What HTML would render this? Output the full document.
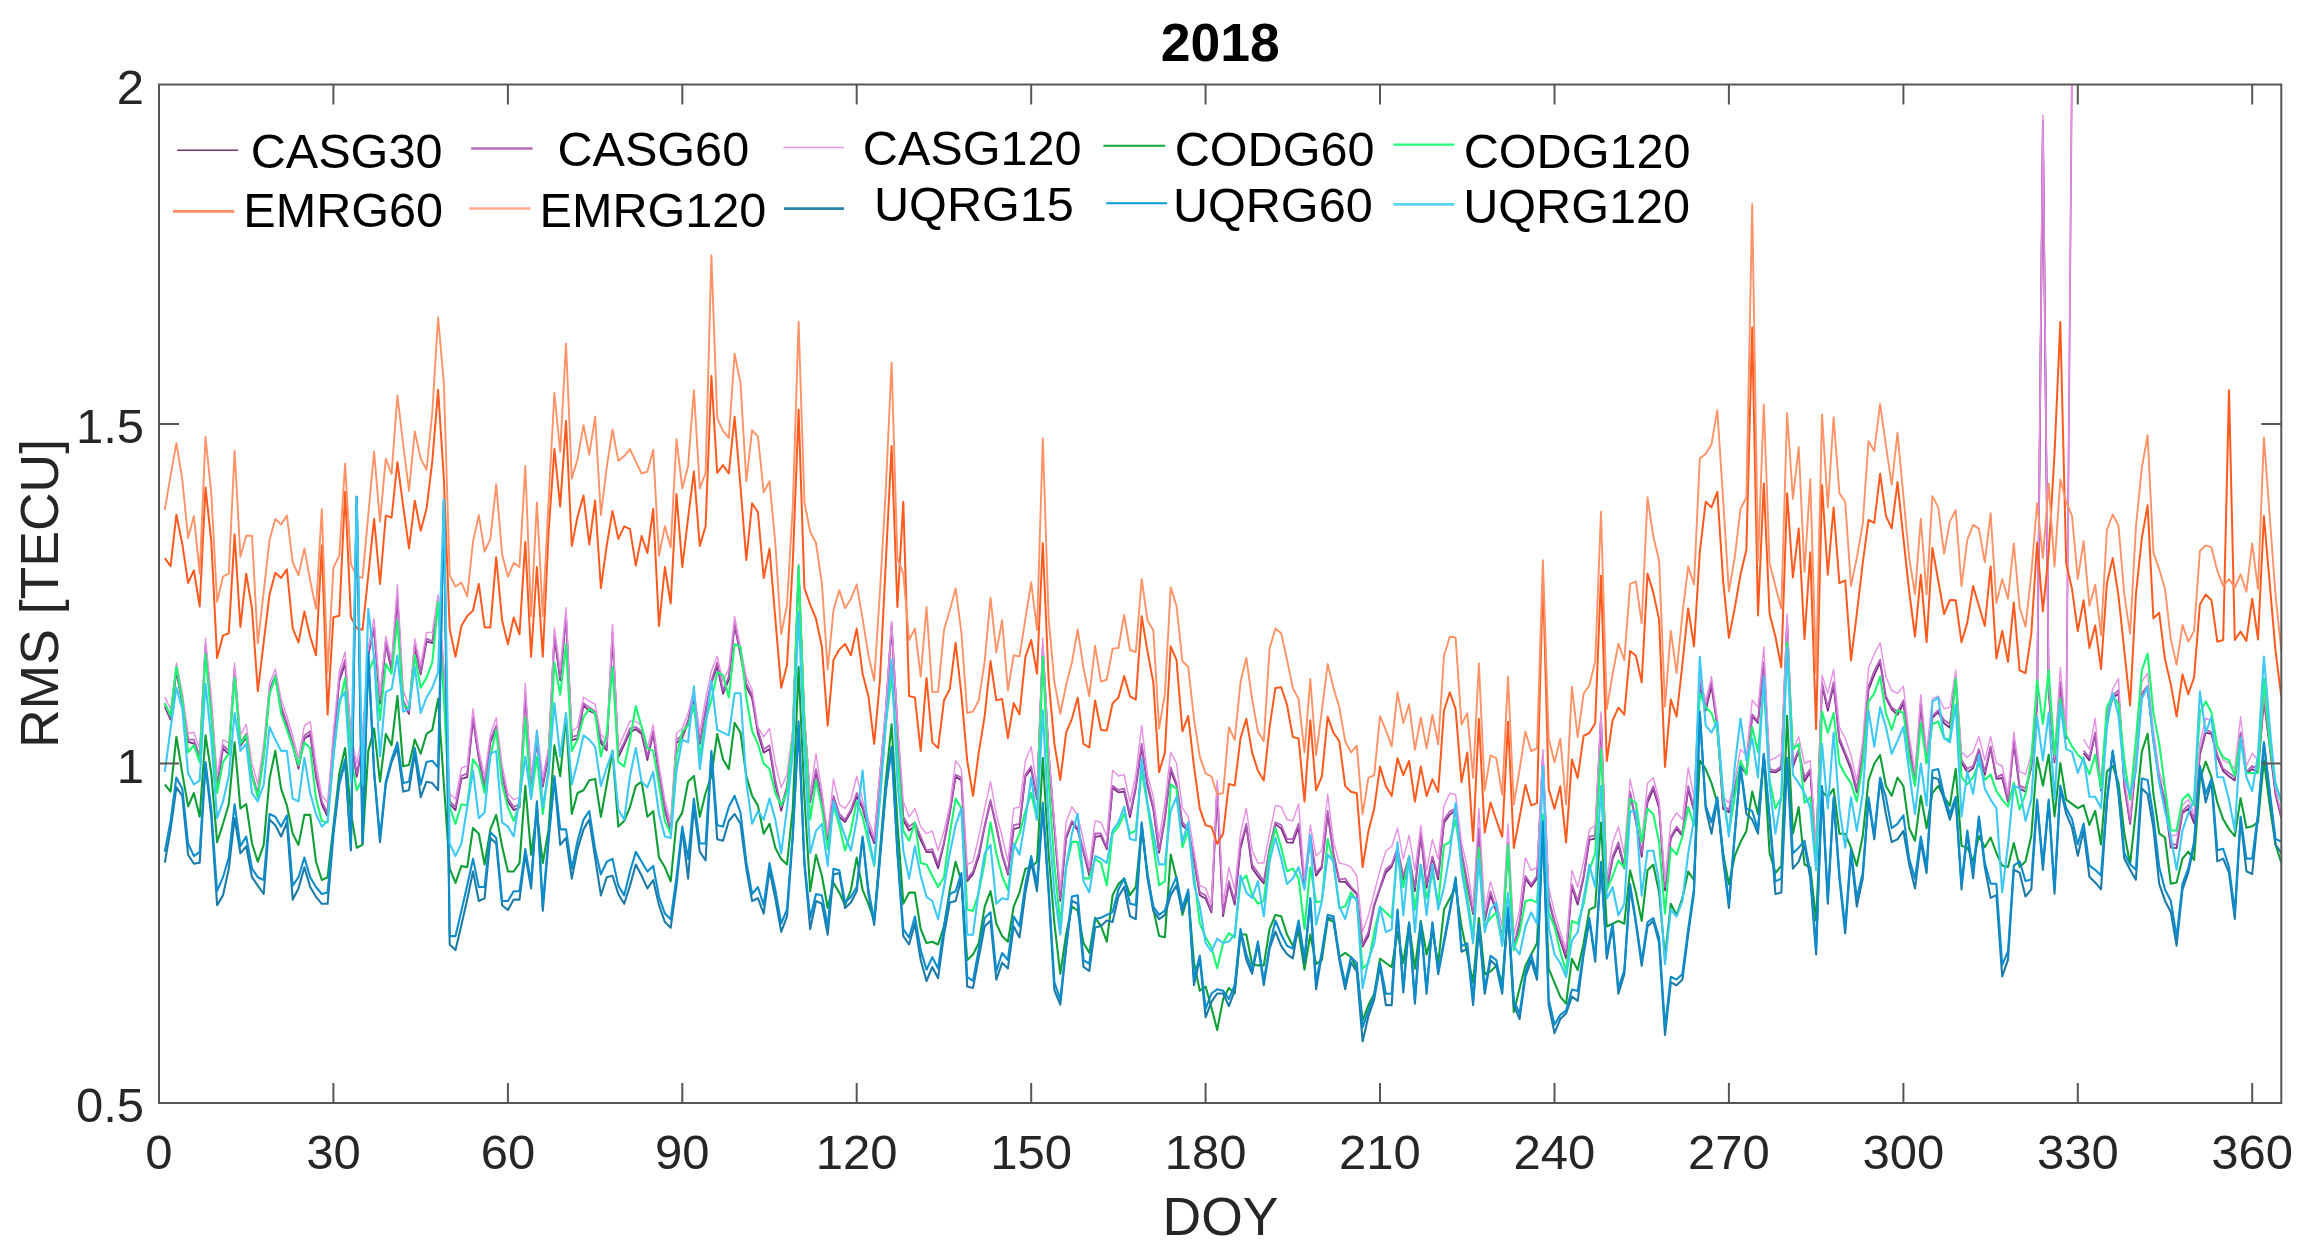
<!DOCTYPE html>
<html><head><meta charset="utf-8"><title>2018</title>
<style>
html,body{margin:0;padding:0;background:#fff;}
svg{display:block;font-family:"Liberation Sans",sans-serif;}
.tk{font-size:49px;fill:#262626;}
.lb{font-size:53.5px;fill:#262626;}
.lg{font-size:48.6px;fill:#000;}
.ti{font-size:53.5px;font-weight:bold;fill:#000;}
</style></head><body>
<svg width="2309" height="1247" viewBox="0 0 2309 1247">
<rect width="2309" height="1247" fill="#fff"/>

<clipPath id="cp"><rect x="159.0" y="84.5" width="2122.3" height="1018.5"/></clipPath>
<filter id="bl" x="-2%" y="-2%" width="104%" height="104%"><feGaussianBlur stdDeviation="0.45"/></filter>
<g clip-path="url(#cp)"><g filter="url(#bl)">
<polyline fill="none" stroke="#7A2A82" stroke-width="1.8" stroke-linejoin="round" points="164.8,706.9 170.6,719.6 176.4,671.4 182.3,703.6 188.1,741.8 193.9,743.6 199.7,760.1 205.5,647.3 211.3,709.0 217.1,787.3 223.0,748.4 228.8,754.3 234.6,670.3 240.4,746.1 246.2,737.3 252.0,776.6 257.8,795.4 263.7,756.3 269.5,692.8 275.3,676.9 281.1,709.9 286.9,725.9 292.7,745.2 298.5,768.7 304.4,738.4 310.2,734.4 316.0,777.0 321.8,804.6 327.6,816.3 333.4,743.4 339.3,681.2 345.1,663.2 350.9,741.8 356.7,776.9 362.5,747.0 368.3,655.1 374.1,629.6 380.0,704.0 385.8,644.4 391.6,670.0 397.4,598.2 403.2,703.1 409.0,713.8 414.8,647.2 420.7,674.3 426.5,641.6 432.3,643.0 438.1,606.6 443.9,676.0 449.7,804.0 455.5,810.1 461.4,779.0 467.2,777.2 473.0,719.8 478.8,758.6 484.6,788.5 490.4,742.5 496.2,728.1 502.1,774.9 507.9,801.7 513.7,810.1 519.5,807.4 525.3,695.2 531.1,783.3 536.9,742.8 542.8,786.7 548.6,756.6 554.4,636.8 560.2,680.3 566.0,617.0 571.8,740.3 577.6,738.3 583.5,705.4 589.3,710.9 595.1,713.5 600.9,742.9 606.7,750.4 612.5,635.2 618.3,757.3 624.2,744.8 630.0,732.1 635.8,729.1 641.6,734.0 647.4,760.0 653.2,733.2 659.0,776.8 664.9,810.5 670.7,831.3 676.5,743.1 682.3,737.8 688.1,722.5 693.9,698.5 699.8,743.9 705.6,712.5 711.4,683.3 717.2,666.3 723.0,693.9 728.8,679.6 734.6,625.4 740.5,654.7 746.3,686.5 752.1,698.2 757.9,733.6 763.7,752.7 769.5,749.1 775.3,784.1 781.2,810.7 787.0,788.9 792.8,734.2 798.6,570.4 804.4,720.5 810.2,802.2 816.0,772.3 821.9,800.0 827.7,839.0 833.5,799.6 839.3,817.0 845.1,822.0 850.9,811.9 856.7,796.6 862.6,808.3 868.4,828.7 874.2,843.1 880.0,776.7 885.8,713.0 891.6,626.7 897.4,726.1 903.3,820.3 909.1,830.5 914.9,826.0 920.7,840.0 926.5,852.0 932.3,852.2 938.1,868.2 944.0,843.7 949.8,813.4 955.6,776.9 961.4,780.3 967.2,881.1 973.0,874.2 978.8,856.8 984.7,826.7 990.5,801.6 996.3,827.1 1002.1,855.1 1007.9,874.6 1013.7,829.2 1019.5,827.5 1025.4,776.4 1031.2,769.1 1037.0,799.5 1042.8,647.9 1048.6,754.6 1054.4,828.4 1060.3,901.0 1066.1,838.7 1071.9,822.8 1077.7,830.2 1083.5,852.1 1089.3,875.7 1095.1,836.8 1101.0,835.9 1106.8,849.2 1112.6,787.7 1118.4,792.4 1124.2,791.6 1130.0,817.3 1135.8,788.2 1141.7,747.2 1147.5,786.0 1153.3,809.4 1159.1,852.8 1164.9,819.4 1170.7,770.8 1176.5,785.5 1182.4,825.5 1188.2,830.5 1194.0,860.9 1199.8,895.3 1205.6,898.5 1211.4,912.4 1217.2,791.4 1223.1,916.1 1228.9,883.8 1234.7,904.6 1240.5,848.6 1246.3,826.1 1252.1,868.1 1257.9,876.3 1263.8,883.4 1269.6,850.2 1275.4,824.1 1281.2,828.6 1287.0,842.3 1292.8,842.8 1298.6,827.2 1304.5,887.2 1310.3,838.2 1316.1,875.7 1321.9,867.5 1327.7,814.0 1333.5,854.7 1339.3,881.7 1345.2,881.8 1351.0,888.4 1356.8,894.5 1362.6,946.5 1368.4,935.8 1374.2,906.0 1380.0,888.7 1385.9,872.5 1391.7,866.5 1397.5,851.5 1403.3,879.1 1409.1,859.9 1414.9,891.1 1420.8,835.4 1426.6,887.9 1432.4,857.9 1438.2,879.4 1444.0,822.6 1449.8,814.7 1455.6,810.4 1461.5,854.1 1467.3,885.4 1473.1,914.1 1478.9,830.5 1484.7,921.0 1490.5,895.0 1496.3,911.7 1502.2,939.6 1508.0,844.4 1513.8,949.2 1519.6,924.2 1525.4,878.4 1531.2,886.8 1537.0,878.4 1542.9,757.6 1548.7,900.9 1554.5,922.6 1560.3,940.4 1566.1,958.5 1571.9,886.9 1577.7,904.6 1583.6,877.9 1589.4,839.9 1595.2,838.6 1601.0,719.2 1606.8,890.0 1612.6,859.0 1618.4,845.4 1624.3,868.5 1630.1,793.6 1635.9,821.6 1641.7,856.9 1647.5,802.6 1653.3,788.9 1659.1,808.2 1665.0,890.3 1670.8,838.4 1676.6,828.8 1682.4,835.7 1688.2,788.9 1694.0,810.7 1699.8,684.2 1705.7,710.6 1711.5,686.0 1717.3,726.4 1723.1,808.9 1728.9,812.3 1734.7,789.6 1740.5,766.5 1746.4,774.1 1752.2,716.4 1758.0,723.0 1763.8,665.2 1769.6,771.6 1775.4,772.4 1781.3,768.7 1787.1,622.7 1792.9,766.9 1798.7,751.3 1804.5,781.5 1810.3,771.8 1816.1,856.3 1822.0,684.8 1827.8,710.9 1833.6,685.7 1839.4,741.1 1845.2,755.0 1851.0,769.6 1856.8,792.4 1862.7,754.8 1868.5,689.6 1874.3,674.8 1880.1,662.3 1885.9,698.2 1891.7,709.4 1897.5,714.9 1903.4,703.5 1909.2,747.7 1915.0,784.0 1920.8,703.9 1926.6,762.7 1932.4,717.9 1938.2,712.1 1944.1,723.3 1949.9,727.8 1955.7,679.9 1961.5,762.5 1967.3,772.4 1973.1,768.2 1978.9,751.7 1984.8,774.9 1990.6,748.0 1996.4,778.9 2002.2,778.0 2008.0,801.9 2013.8,743.1 2019.6,788.5 2025.5,791.6 2031.3,767.5 2037.1,706.5 2042.9,123.0 2048.7,692.9 2054.5,762.4 2060.3,684.7 2066.2,739.0"/>
<polyline fill="none" stroke="#7A2A82" stroke-width="1.8" stroke-linejoin="round" points="2083.6,753.0 2089.4,760.4 2095.2,734.1 2101.0,790.6 2106.9,718.6 2112.7,697.6 2118.5,693.9 2124.3,786.6 2130.1,823.8 2135.9,764.2 2141.8,695.4 2147.6,689.4 2153.4,741.3 2159.2,779.4 2165.0,802.8 2170.8,847.7 2176.6,848.1 2182.5,813.0 2188.3,808.6 2194.1,823.2 2199.9,755.1 2205.7,732.3 2211.5,734.1 2217.3,757.5 2223.2,771.1 2229.0,776.3 2234.8,780.4 2240.6,735.2 2246.4,773.5 2252.2,769.1 2258.0,771.8 2263.9,700.5 2269.7,747.2 2275.5,794.3 2281.3,818.3"/>
<polyline fill="none" stroke="#B25EBB" stroke-width="1.8" stroke-linejoin="round" points="164.8,704.8 170.6,717.2 176.4,668.3 182.3,702.0 188.1,739.6 193.9,739.6 199.7,756.5 205.5,644.2 211.3,706.0 217.1,784.5 223.0,745.2 228.8,750.9 234.6,668.1 240.4,742.4 246.2,734.0 252.0,773.3 257.8,793.0 263.7,753.7 269.5,689.1 275.3,675.1 281.1,706.0 286.9,722.8 292.7,742.4 298.5,766.3 304.4,735.4 310.2,731.2 316.0,773.3 321.8,801.4 327.6,812.6 333.4,739.6 339.3,677.9 345.1,659.6 350.9,739.6 356.7,773.3 362.5,745.2 368.3,652.6 374.1,627.4 380.0,700.3 385.8,641.4 391.6,666.7 397.4,594.5 403.2,700.3 409.0,711.6 414.8,644.2 420.7,672.3 426.5,638.6 432.3,641.4 438.1,604.3 443.9,672.3 449.7,801.4 455.5,807.0 461.4,776.1 467.2,773.3 473.0,717.2 478.8,756.5 484.6,784.5 490.4,739.6 496.2,725.6 502.1,773.3 507.9,798.6 513.7,807.0 519.5,804.2 525.3,691.9 531.1,781.7 536.9,739.6 542.8,784.5 548.6,753.7 554.4,634.4 560.2,677.9 566.0,614.7 571.8,736.8 577.6,735.4 583.5,703.1 589.3,707.4 595.1,711.6 600.9,739.6 606.7,748.1 612.5,631.6 618.3,753.7 624.2,742.4 630.0,728.4 635.8,727.0 641.6,731.2 647.4,756.5 653.2,731.2 659.0,773.3 664.9,807.0 670.7,829.4 676.5,739.6 682.3,735.4 688.1,720.0 693.9,694.7 699.8,742.4 705.6,708.8 711.4,680.7 717.2,662.4 723.0,690.5 728.8,676.5 734.6,623.2 740.5,652.6 746.3,683.5 752.1,694.7 757.9,729.8 763.7,749.5 769.5,745.3 775.3,780.3 781.2,807.0 787.0,786.0 792.8,732.6 798.6,567.0 804.4,718.6 810.2,800.0 816.0,769.1 821.9,797.2 827.7,836.5 833.5,795.8 839.3,814.0 845.1,819.6 850.9,809.8 856.7,793.0 862.6,805.6 868.4,825.2 874.2,840.7 880.0,774.7 885.8,710.2 891.6,623.2 897.4,724.2 903.3,816.8 909.1,826.6 914.9,822.4 920.7,836.5 926.5,850.5 932.3,849.1 938.1,864.5 944.0,842.1 949.8,811.2 955.6,774.7 961.4,777.5 967.2,878.6 973.0,871.6 978.8,853.3 984.7,825.2 990.5,800.0 996.3,825.2 1002.1,853.3 1007.9,873.0 1013.7,825.2 1019.5,823.8 1025.4,774.7 1031.2,766.3 1037.0,797.2 1042.8,645.6 1048.6,752.3 1054.4,825.2 1060.3,898.1 1066.1,836.3 1071.9,820.9 1077.7,827.9 1083.5,850.3 1089.3,872.8 1095.1,833.5 1101.0,833.5 1106.8,847.5 1112.6,785.8 1118.4,790.0 1124.2,788.6 1130.0,813.8 1135.8,785.8 1141.7,743.7 1147.5,783.0 1153.3,806.8 1159.1,850.3 1164.9,816.7 1170.7,767.5 1176.5,783.0 1182.4,822.3 1188.2,827.9 1194.0,858.8 1199.8,892.4 1205.6,895.2 1211.4,910.7 1217.2,785.8 1223.1,913.5 1228.9,881.2 1234.7,900.9 1240.5,844.7 1246.3,823.7 1252.1,864.4 1257.9,872.8 1263.8,881.2 1269.6,847.5 1275.4,822.3 1281.2,825.1 1287.0,839.1 1292.8,839.1 1298.6,823.7 1304.5,884.0 1310.3,834.9 1316.1,872.8 1321.9,865.8 1327.7,811.0 1333.5,853.1 1339.3,879.8 1345.2,878.4 1351.0,886.8 1356.8,892.8 1362.6,944.7 1368.4,932.1 1374.2,904.0 1380.0,887.2 1385.9,868.9 1391.7,864.7 1397.5,847.9 1403.3,876.0 1409.1,856.3 1414.9,887.2 1420.8,832.4 1426.6,884.4 1432.4,856.3 1438.2,876.0 1444.0,819.8 1449.8,811.4 1455.6,808.6 1461.5,850.7 1467.3,881.6 1473.1,912.4 1478.9,828.2 1484.7,918.1 1490.5,891.4 1496.3,909.6 1502.2,937.7 1508.0,842.3 1513.8,946.1 1519.6,920.9 1525.4,876.0 1531.2,884.4 1537.0,876.0 1542.9,755.3 1548.7,898.4 1554.5,920.9 1560.3,937.7 1566.1,954.5 1571.9,884.4 1577.7,901.2 1583.6,876.0 1589.4,836.7 1595.2,835.3 1601.0,716.0 1606.8,887.2 1612.6,856.3 1618.4,842.3 1624.3,864.7 1630.1,791.7 1635.9,819.8 1641.7,853.5 1647.5,798.8 1653.3,786.1 1659.1,805.6 1665.0,887.0 1670.8,836.5 1676.6,826.6 1682.4,833.7 1688.2,786.0 1694.0,808.4 1699.8,682.1 1705.7,707.4 1711.5,682.1 1717.3,724.2 1723.1,805.6 1728.9,809.8 1734.7,786.0 1740.5,763.5 1746.4,771.9 1752.2,714.4 1758.0,721.4 1763.8,662.5 1769.6,769.1 1775.4,770.5 1781.3,766.3 1787.1,620.4 1792.9,763.5 1798.7,749.5 1804.5,777.5 1810.3,769.1 1816.1,853.3 1822.0,682.1 1827.8,707.4 1833.6,682.1 1839.4,738.2 1845.2,752.3 1851.0,766.3 1856.8,788.8 1862.7,752.3 1868.5,686.3 1874.3,670.9 1880.1,659.6 1885.9,696.1 1891.7,707.4 1897.5,711.6 1903.4,700.3 1909.2,743.8 1915.0,780.3 1920.8,701.7 1926.6,760.7 1932.4,715.8 1938.2,710.2 1944.1,720.0 1949.9,724.2 1955.7,676.1 1961.5,760.3 1967.3,768.8 1973.1,766.0 1978.9,749.1 1984.8,771.6 1990.6,746.3 1996.4,777.2 2002.2,774.4 2008.0,799.6 2013.8,740.7 2019.6,785.6 2025.5,788.4 2031.3,766.0 2037.1,704.2 2042.9,120.4 2048.7,690.2 2054.5,760.3 2060.3,681.7 2066.2,735.1 2072.0,58.7"/>
<polyline fill="none" stroke="#B25EBB" stroke-width="1.8" stroke-linejoin="round" points="2083.6,750.5 2089.4,757.5 2095.2,732.3 2101.0,788.4 2106.9,715.4 2112.7,695.8 2118.5,690.2 2124.3,782.8 2130.1,822.1 2135.9,760.3 2141.8,693.0 2147.6,686.0 2153.4,737.9 2159.2,777.2 2165.0,799.6 2170.8,844.5 2176.6,844.5 2182.5,810.9 2188.3,805.2 2194.1,819.3 2199.9,751.9 2205.7,729.5 2211.5,732.3 2217.3,754.7 2223.2,768.8 2229.0,773.0 2234.8,777.2 2240.6,732.3 2246.4,771.6 2252.2,766.0 2258.0,768.8 2263.9,698.6 2269.7,743.5 2275.5,791.2 2281.3,816.5"/>
<polyline fill="none" stroke="#E690E4" stroke-width="1.4" stroke-linejoin="round" points="164.8,697.1 170.6,709.2 176.4,663.0 182.3,692.8 188.1,733.5 193.9,732.3 199.7,749.1 205.5,638.4 211.3,696.6 217.1,775.8 223.0,739.9 228.8,742.9 234.6,662.9 240.4,735.1 246.2,724.6 252.0,763.7 257.8,784.0 263.7,744.0 269.5,683.6 275.3,669.0 281.1,698.8 286.9,716.3 292.7,735.5 298.5,758.4 304.4,725.9 310.2,721.6 316.0,763.4 321.8,795.6 327.6,802.8 333.4,731.8 339.3,671.8 345.1,651.8 350.9,734.3 356.7,763.4 362.5,736.2 368.3,646.9 374.1,618.5 380.0,695.1 385.8,636.2 391.6,660.0 397.4,584.6 403.2,690.3 409.0,706.2 414.8,639.0 420.7,665.2 426.5,632.8 432.3,632.1 438.1,594.6 443.9,665.4 449.7,793.8 455.5,799.0 461.4,768.0 467.2,765.8 473.0,708.6 478.8,750.0 484.6,776.9 490.4,734.6 496.2,717.7 502.1,765.2 507.9,793.3 513.7,799.7 519.5,797.4 525.3,683.2 531.1,776.4 536.9,729.8 542.8,777.3 548.6,747.1 554.4,627.8 560.2,669.9 566.0,607.8 571.8,731.7 577.6,726.7 583.5,697.0 589.3,701.2 595.1,704.4 600.9,734.1 606.7,741.4 612.5,624.4 618.3,747.8 624.2,734.2 630.0,721.1 635.8,721.4 641.6,725.3 647.4,747.3 653.2,724.8 659.0,765.1 664.9,800.3 670.7,823.0 676.5,733.3 682.3,728.3 688.1,712.9 693.9,688.9 699.8,732.7 705.6,698.8 711.4,670.9 717.2,656.3 723.0,681.3 728.8,668.9 734.6,616.4 740.5,647.3 746.3,677.1 752.1,689.5 757.9,727.0 763.7,736.8 769.5,728.4 775.3,763.5 781.2,787.4 787.0,774.7 792.8,729.8 798.6,564.2 804.4,715.8 810.2,794.4 816.0,753.7 821.9,791.6 827.7,833.7 833.5,778.9 839.3,804.2 845.1,808.4 850.9,800.0 856.7,776.1 862.6,800.0 868.4,819.6 874.2,836.5 880.0,771.9 885.8,707.4 891.6,621.5 897.4,721.4 903.3,801.4 909.1,816.8 914.9,808.4 920.7,826.6 926.5,833.7 932.3,830.9 938.1,850.5 944.0,830.9 949.8,805.6 955.6,760.7 961.4,769.1 967.2,864.5 973.0,861.7 978.8,836.5 984.7,808.4 990.5,781.7 996.3,814.0 1002.1,836.5 1007.9,861.7 1013.7,808.4 1019.5,807.0 1025.4,760.7 1031.2,746.7 1037.0,788.8 1042.8,638.3 1048.6,749.5 1054.4,822.4 1060.3,889.6 1066.1,822.3 1071.9,806.8 1077.7,815.3 1083.5,840.5 1089.3,867.2 1095.1,820.9 1101.0,822.3 1106.8,836.3 1112.6,770.3 1118.4,776.0 1124.2,774.6 1130.0,802.6 1135.8,774.6 1141.7,725.4 1147.5,774.6 1153.3,797.0 1159.1,839.1 1164.9,802.6 1170.7,752.1 1176.5,763.3 1182.4,808.2 1188.2,816.7 1194.0,850.3 1199.8,885.4 1205.6,888.2 1211.4,903.7 1217.2,780.2 1223.1,903.7 1228.9,867.2 1234.7,889.6 1240.5,833.5 1246.3,808.2 1252.1,850.3 1257.9,863.0 1263.8,863.0 1269.6,833.5 1275.4,805.4 1281.2,806.8 1287.0,819.5 1292.8,820.9 1298.6,804.0 1304.5,878.4 1310.3,825.1 1316.1,856.0 1321.9,850.3 1327.7,794.2 1333.5,841.9 1339.3,863.0 1345.2,864.4 1351.0,867.2 1356.8,876.0 1362.6,932.1 1368.4,915.2 1374.2,892.8 1380.0,870.3 1385.9,850.7 1391.7,846.5 1397.5,828.2 1403.3,859.1 1409.1,835.3 1414.9,870.3 1420.8,825.4 1426.6,870.3 1432.4,839.5 1438.2,859.1 1444.0,805.8 1449.8,793.2 1455.6,794.6 1461.5,842.3 1467.3,867.5 1473.1,906.8 1478.9,808.6 1484.7,909.6 1490.5,881.6 1496.3,901.2 1502.2,926.5 1508.0,824.0 1513.8,934.9 1519.6,909.6 1525.4,857.7 1531.2,870.3 1537.0,867.5 1542.9,749.6 1548.7,887.2 1554.5,912.4 1560.3,932.1 1566.1,948.9 1571.9,870.3 1577.7,887.2 1583.6,861.9 1589.4,829.6 1595.2,825.4 1601.0,712.0 1606.8,878.8 1612.6,842.3 1618.4,826.8 1624.3,853.5 1630.1,779.1 1635.9,805.8 1641.7,842.3 1647.5,783.3 1653.3,777.7 1659.1,800.0 1665.0,881.4 1670.8,822.4 1676.6,812.6 1682.4,819.6 1688.2,767.7 1694.0,797.2 1699.8,676.5 1705.7,701.7 1711.5,676.5 1717.3,718.6 1723.1,797.2 1728.9,802.8 1734.7,780.3 1740.5,749.5 1746.4,755.1 1752.2,700.3 1758.0,707.4 1763.8,647.0 1769.6,760.7 1775.4,757.9 1781.3,753.7 1787.1,613.9 1792.9,749.5 1798.7,736.8 1804.5,763.5 1810.3,760.7 1816.1,847.7 1822.0,675.1 1827.8,693.3 1833.6,669.5 1839.4,727.0 1845.2,738.2 1851.0,755.1 1856.8,780.3 1862.7,741.0 1868.5,668.1 1874.3,654.0 1880.1,642.8 1885.9,676.5 1891.7,690.5 1897.5,693.3 1903.4,686.3 1909.2,735.4 1915.0,771.9 1920.8,694.7 1926.6,752.3 1932.4,698.9 1938.2,696.1 1944.1,708.8 1949.9,707.4 1955.7,670.5 1961.5,751.9 1967.3,757.5 1973.1,751.9 1978.9,736.5 1984.8,760.3 1990.6,736.5 1996.4,763.1 2002.2,766.0 2008.0,794.0 2013.8,732.3 2019.6,771.6 2025.5,774.4 2031.3,754.7 2037.1,690.2 2042.9,115.1 2048.7,684.6 2054.5,757.5 2060.3,667.7 2066.2,732.3 2072.0,55.0"/>
<polyline fill="none" stroke="#E690E4" stroke-width="1.4" stroke-linejoin="round" points="2083.6,739.3 2089.4,749.1 2095.2,718.2 2101.0,785.6 2106.9,712.6 2112.7,688.8 2118.5,678.9 2124.3,777.2 2130.1,816.5 2135.9,754.7 2141.8,681.7 2147.6,673.3 2153.4,729.5 2159.2,771.6 2165.0,788.4 2170.8,836.1 2176.6,834.7 2182.5,805.2 2188.3,799.6 2194.1,813.7 2199.9,743.5 2205.7,718.2 2211.5,721.0 2217.3,746.3 2223.2,760.3 2229.0,763.1 2234.8,768.8 2240.6,716.8 2246.4,766.0 2252.2,753.3 2258.0,760.3 2263.9,693.0 2269.7,737.9 2275.5,788.4 2281.3,813.7"/>
<polyline fill="none" stroke="#0E9F34" stroke-width="2.1" stroke-linejoin="round" points="164.8,784.5 170.6,791.6 176.4,736.8 182.3,773.3 188.1,806.4 193.9,793.0 199.7,816.8 205.5,735.4 211.3,773.3 217.1,842.1 223.0,823.8 228.8,804.2 234.6,742.4 240.4,808.4 246.2,804.2 252.0,843.5 257.8,861.7 263.7,844.9 269.5,778.9 275.3,750.9 281.1,788.7 286.9,805.6 292.7,833.7 298.5,844.9 304.4,814.9 310.2,814.9 316.0,861.7 321.8,880.0 327.6,877.2 333.4,826.6 339.3,773.3 345.1,748.1 350.9,812.6 356.7,847.7 362.5,844.9 368.3,750.9 374.1,728.4 380.0,781.7 385.8,734.0 391.6,745.2 397.4,696.1 403.2,766.3 409.0,764.9 414.8,739.6 420.7,753.7 426.5,734.0 432.3,729.8 438.1,698.9 443.9,784.5 449.7,868.7 455.5,882.8 461.4,865.9 467.2,867.3 473.0,828.0 478.8,833.7 484.6,864.5 490.4,829.4 496.2,814.9 502.1,846.3 507.9,871.5 513.7,871.5 519.5,863.1 525.3,785.9 531.1,854.7 536.9,812.6 542.8,863.1 548.6,829.4 554.4,745.2 560.2,776.1 566.0,717.2 571.8,814.0 577.6,793.0 583.5,790.2 589.3,780.3 595.1,778.9 600.9,816.8 606.7,784.5 612.5,750.9 618.3,826.6 624.2,821.0 630.0,807.0 635.8,785.9 641.6,781.7 647.4,816.8 653.2,811.2 659.0,857.5 664.9,867.3 670.7,881.4 676.5,822.4 682.3,812.6 688.1,781.7 693.9,776.1 699.8,816.8 705.6,793.0 711.4,776.1 717.2,734.0 723.0,759.3 728.8,769.1 734.6,722.8 740.5,732.6 746.3,776.1 752.1,795.8 757.9,805.6 763.7,833.7 769.5,823.8 775.3,847.7 781.2,858.9 787.0,864.5 792.8,808.4 798.6,666.7 804.4,797.2 810.2,891.2 816.0,854.7 821.9,875.8 827.7,908.0 833.5,882.8 839.3,892.6 845.1,905.2 850.9,889.8 856.7,857.5 862.6,889.8 868.4,903.8 874.2,920.7 880.0,850.5 885.8,780.3 891.6,724.2 897.4,822.4 903.3,903.8 909.1,892.6 914.9,892.6 920.7,929.1 926.5,943.1 932.3,941.7 938.1,944.5 944.0,926.3 949.8,889.8 955.6,861.7 961.4,881.4 967.2,960.0 973.0,954.4 978.8,943.1 984.7,906.6 990.5,891.2 996.3,923.5 1002.1,936.1 1007.9,941.7 1013.7,906.6 1019.5,892.6 1025.4,868.7 1031.2,867.3 1037.0,861.7 1042.8,757.9 1048.6,853.3 1054.4,923.5 1060.3,973.8 1066.1,934.5 1071.9,906.5 1077.7,910.7 1083.5,943.0 1089.3,952.8 1095.1,917.7 1101.0,926.1 1106.8,941.6 1112.6,895.2 1118.4,884.0 1124.2,878.4 1130.0,895.2 1135.8,886.8 1141.7,827.9 1147.5,872.8 1153.3,909.3 1159.1,935.9 1164.9,937.3 1170.7,854.5 1176.5,878.4 1182.4,914.9 1188.2,895.2 1194.0,962.6 1199.8,990.7 1205.6,986.5 1211.4,1007.5 1217.2,1030.0 1223.1,999.1 1228.9,987.9 1234.7,993.5 1240.5,934.5 1246.3,934.5 1252.1,964.0 1257.9,965.4 1263.8,965.4 1269.6,928.9 1275.4,914.9 1281.2,916.3 1287.0,934.5 1292.8,945.8 1298.6,931.7 1304.5,969.6 1310.3,934.5 1316.1,964.0 1321.9,959.8 1327.7,919.1 1333.5,921.9 1339.3,957.0 1345.2,952.8 1351.0,957.0 1356.8,968.6 1362.6,1020.5 1368.4,1005.1 1374.2,993.8 1380.0,958.7 1385.9,963.0 1391.7,967.2 1397.5,932.1 1403.3,963.0 1409.1,923.7 1414.9,968.6 1420.8,920.9 1426.6,954.5 1432.4,932.1 1438.2,963.0 1444.0,909.6 1449.8,898.4 1455.6,887.2 1461.5,926.5 1467.3,954.5 1473.1,982.6 1478.9,918.1 1484.7,974.2 1490.5,971.4 1496.3,965.8 1502.2,982.6 1508.0,909.6 1513.8,1012.1 1519.6,988.2 1525.4,965.8 1531.2,954.5 1537.0,943.3 1542.9,822.6 1548.7,968.6 1554.5,982.6 1560.3,996.6 1566.1,1003.7 1571.9,958.7 1577.7,970.0 1583.6,943.3 1589.4,909.6 1595.2,906.8 1601.0,822.6 1606.8,926.5 1612.6,923.7 1618.4,920.9 1624.3,923.7 1630.1,870.3 1635.9,892.8 1641.7,920.9 1647.5,870.3 1653.3,864.7 1659.1,892.6 1665.0,957.2 1670.8,903.8 1676.6,915.1 1682.4,898.2 1688.2,871.6 1694.0,880.0 1699.8,760.7 1705.7,769.1 1711.5,783.1 1717.3,802.8 1723.1,853.3 1728.9,884.2 1734.7,856.1 1740.5,842.1 1746.4,830.9 1752.2,791.6 1758.0,814.0 1763.8,757.9 1769.6,853.3 1775.4,873.0 1781.3,865.9 1787.1,715.8 1792.9,833.7 1798.7,807.0 1804.5,864.5 1810.3,867.3 1816.1,920.7 1822.0,791.6 1827.8,797.2 1833.6,788.8 1839.4,833.7 1845.2,833.7 1851.0,847.7 1856.8,865.9 1862.7,836.5 1868.5,780.3 1874.3,763.5 1880.1,755.1 1885.9,786.0 1891.7,795.8 1897.5,777.5 1903.4,786.0 1909.2,828.1 1915.0,840.7 1920.8,795.8 1926.6,828.1 1932.4,793.0 1938.2,786.0 1944.1,797.2 1949.9,805.6 1955.7,768.8 1961.5,845.9 1967.3,847.3 1973.1,861.4 1978.9,836.1 1984.8,847.3 1990.6,837.5 1996.4,853.0 2002.2,865.6 2008.0,867.0 2013.8,843.1 2019.6,867.0 2025.5,861.4 2031.3,836.1 2037.1,757.5 2042.9,785.6 2048.7,754.7 2054.5,816.5 2060.3,763.1 2066.2,799.6 2072.0,803.8 2077.8,808.1 2083.6,805.2 2089.4,824.9 2095.2,810.9 2101.0,844.5 2106.9,771.6 2112.7,766.0 2118.5,782.8 2124.3,833.3 2130.1,864.2 2135.9,810.9 2141.8,751.9 2147.6,733.7 2153.4,794.0 2159.2,833.3 2165.0,837.5 2170.8,883.8 2176.6,882.4 2182.5,858.6 2188.3,851.6 2194.1,860.0 2199.9,780.0 2205.7,761.7 2211.5,777.2 2217.3,802.4 2223.2,819.3 2229.0,829.1 2234.8,836.1 2240.6,798.2 2246.4,827.7 2252.2,826.3 2258.0,822.1 2263.9,760.3 2269.7,805.2 2275.5,844.5 2281.3,862.8"/>
<polyline fill="none" stroke="#1CF772" stroke-width="2.1" stroke-linejoin="round" points="164.8,703.1 170.6,715.8 176.4,666.7 182.3,700.3 188.1,752.3 193.9,745.2 199.7,762.1 205.5,654.0 211.3,717.2 217.1,793.0 223.0,762.1 228.8,753.7 234.6,677.9 240.4,743.8 246.2,735.4 252.0,776.1 257.8,797.2 263.7,756.5 269.5,694.7 275.3,676.5 281.1,713.0 286.9,729.8 292.7,746.6 298.5,764.9 304.4,742.4 310.2,748.1 316.0,798.6 321.8,821.0 327.6,822.4 333.4,756.5 339.3,706.0 345.1,677.9 350.9,756.5 356.7,790.2 362.5,778.9 368.3,672.3 374.1,658.2 380.0,720.0 385.8,663.8 391.6,673.7 397.4,620.3 403.2,704.5 409.0,708.8 414.8,655.4 420.7,687.7 426.5,677.9 432.3,662.4 438.1,602.1 443.9,700.3 449.7,807.0 455.5,823.8 461.4,804.2 467.2,805.6 473.0,759.3 478.8,767.7 484.6,793.0 490.4,756.5 496.2,729.8 502.1,784.5 507.9,807.0 513.7,821.0 519.5,804.2 525.3,717.2 531.1,798.6 536.9,756.5 542.8,814.0 548.6,767.7 554.4,662.4 560.2,694.7 566.0,644.2 571.8,750.9 577.6,739.6 583.5,717.2 589.3,708.8 595.1,713.0 600.9,756.5 606.7,734.0 612.5,666.7 618.3,762.1 624.2,766.3 630.0,739.6 635.8,706.0 641.6,727.0 647.4,748.1 653.2,750.9 659.0,784.5 664.9,821.0 670.7,833.7 676.5,756.5 682.3,731.2 688.1,725.6 693.9,706.0 699.8,756.5 705.6,720.0 711.4,700.3 717.2,672.3 723.0,675.1 728.8,697.5 734.6,644.2 740.5,647.0 746.3,697.5 752.1,731.2 757.9,743.8 763.7,763.5 769.5,769.1 775.3,793.0 781.2,805.6 787.0,791.6 792.8,738.2 798.6,565.6 804.4,724.2 810.2,819.6 816.0,780.3 821.9,808.4 827.7,849.1 833.5,805.6 839.3,825.2 845.1,850.5 850.9,830.9 856.7,801.4 862.6,816.8 868.4,842.1 874.2,865.9 880.0,797.2 885.8,724.2 891.6,676.5 897.4,752.3 903.3,830.9 909.1,840.7 914.9,822.4 920.7,863.1 926.5,864.5 932.3,875.8 938.1,887.0 944.0,877.2 949.8,833.7 955.6,798.6 961.4,808.4 967.2,909.4 973.0,910.9 978.8,892.6 984.7,861.7 990.5,822.4 996.3,853.3 1002.1,875.8 1007.9,889.8 1013.7,847.7 1019.5,833.7 1025.4,811.2 1031.2,793.0 1037.0,819.6 1042.8,656.8 1048.6,780.3 1054.4,864.5 1060.3,923.3 1066.1,867.2 1071.9,841.9 1077.7,841.9 1083.5,878.4 1089.3,878.4 1095.1,858.8 1101.0,863.0 1106.8,885.4 1112.6,833.5 1118.4,826.5 1124.2,813.8 1130.0,833.5 1135.8,830.7 1141.7,770.3 1147.5,805.4 1153.3,844.7 1159.1,885.4 1164.9,881.2 1170.7,784.4 1176.5,788.6 1182.4,847.5 1188.2,830.7 1194.0,875.6 1199.8,923.3 1205.6,937.3 1211.4,947.2 1217.2,968.2 1223.1,943.0 1228.9,933.1 1234.7,937.3 1240.5,881.2 1246.3,875.6 1252.1,895.2 1257.9,903.7 1263.8,900.9 1269.6,853.1 1275.4,827.9 1281.2,847.5 1287.0,871.4 1292.8,868.6 1298.6,878.4 1304.5,928.9 1310.3,867.2 1316.1,902.3 1321.9,900.9 1327.7,839.1 1333.5,863.0 1339.3,907.9 1345.2,906.5 1351.0,892.4 1356.8,901.2 1362.6,968.6 1368.4,963.0 1374.2,932.1 1380.0,906.8 1385.9,912.4 1391.7,918.1 1397.5,853.5 1403.3,887.2 1409.1,856.3 1414.9,909.6 1420.8,864.7 1426.6,898.4 1432.4,873.1 1438.2,904.0 1444.0,845.1 1449.8,842.3 1455.6,819.8 1461.5,861.9 1467.3,895.6 1473.1,937.7 1478.9,847.9 1484.7,926.5 1490.5,918.1 1496.3,912.4 1502.2,943.3 1508.0,845.1 1513.8,950.3 1519.6,932.1 1525.4,901.2 1531.2,899.8 1537.0,902.6 1542.9,814.2 1548.7,912.4 1554.5,926.5 1560.3,951.7 1566.1,971.4 1571.9,920.9 1577.7,923.7 1583.6,904.0 1589.4,870.3 1595.2,853.5 1601.0,749.6 1606.8,890.0 1612.6,876.0 1618.4,860.5 1624.3,867.5 1630.1,798.8 1635.9,803.0 1641.7,842.3 1647.5,808.6 1653.3,814.2 1659.1,842.1 1665.0,913.7 1670.8,847.7 1676.6,854.7 1682.4,836.5 1688.2,807.0 1694.0,825.2 1699.8,693.3 1705.7,707.4 1711.5,713.0 1717.3,729.8 1723.1,797.2 1728.9,833.7 1734.7,797.2 1740.5,760.7 1746.4,774.7 1752.2,727.0 1758.0,752.3 1763.8,684.9 1769.6,780.3 1775.4,808.4 1781.3,797.2 1787.1,642.8 1792.9,749.5 1798.7,743.8 1804.5,802.8 1810.3,797.2 1816.1,864.5 1822.0,711.6 1827.8,732.6 1833.6,713.0 1839.4,763.5 1845.2,774.7 1851.0,783.1 1856.8,801.4 1862.7,763.5 1868.5,701.7 1874.3,693.3 1880.1,676.5 1885.9,713.0 1891.7,729.8 1897.5,710.2 1903.4,713.0 1909.2,757.9 1915.0,786.0 1920.8,722.8 1926.6,763.5 1932.4,724.2 1938.2,721.4 1944.1,738.2 1949.9,739.6 1955.7,678.9 1961.5,777.2 1967.3,784.2 1973.1,777.2 1978.9,763.1 1984.8,780.0 1990.6,774.4 1996.4,791.2 2002.2,799.6 2008.0,806.6 2013.8,782.8 2019.6,809.5 2025.5,794.0 2031.3,760.3 2037.1,680.3 2042.9,723.8 2048.7,670.5 2054.5,754.7 2060.3,698.6 2066.2,735.1 2072.0,746.3 2077.8,754.7 2083.6,760.3 2089.4,774.4 2095.2,754.7 2101.0,788.4 2106.9,707.0 2112.7,695.8 2118.5,704.2 2124.3,760.3 2130.1,799.6 2135.9,740.7 2141.8,670.5 2147.6,653.7 2153.4,712.6 2159.2,743.5 2165.0,788.4 2170.8,830.5 2176.6,830.5 2182.5,799.6 2188.3,794.0 2194.1,805.2 2199.9,712.6 2205.7,701.4 2211.5,712.6 2217.3,746.3 2223.2,757.5 2229.0,760.3 2234.8,775.8 2240.6,737.9 2246.4,773.0 2252.2,773.0 2258.0,773.0 2263.9,678.9 2269.7,743.5 2275.5,782.8 2281.3,802.4"/>
<polyline fill="none" stroke="#FF5A1F" stroke-width="2.0" stroke-linejoin="round" points="164.8,558.2 170.6,566.1 176.4,514.7 182.3,544.2 188.1,582.9 193.9,570.3 199.7,606.5 205.5,487.5 211.3,541.4 217.1,658.1 223.0,635.4 228.8,633.4 234.6,534.4 240.4,627.0 246.2,573.7 252.0,608.7 257.8,691.3 263.7,642.4 269.5,594.7 275.3,572.8 281.1,577.9 286.9,569.4 292.7,628.4 298.5,642.4 304.4,611.5 310.2,636.8 316.0,655.3 321.8,545.6 327.6,714.6 333.4,617.2 339.3,615.8 345.1,491.7 350.9,617.2 356.7,628.4 362.5,629.8 368.3,575.1 374.1,518.9 380.0,584.0 385.8,515.6 391.6,517.5 397.4,462.2 403.2,506.3 409.0,548.4 414.8,500.7 420.7,530.7 426.5,509.1 432.3,461.4 438.1,389.8 443.9,479.6 449.7,628.9 455.5,656.8 461.4,626.0 467.2,616.1 473.0,610.5 478.8,583.9 484.6,627.4 490.4,627.4 496.2,557.2 502.1,620.3 507.9,644.2 513.7,617.5 519.5,634.4 525.3,541.7 531.1,656.8 536.9,567.0 542.8,656.8 548.6,531.9 554.4,449.1 560.2,506.6 566.0,421.0 571.8,545.9 577.6,516.5 583.5,495.4 589.3,544.5 595.1,500.5 600.9,588.1 606.7,545.9 612.5,510.9 618.3,538.9 624.2,526.3 630.0,529.1 635.8,565.6 641.6,536.1 647.4,553.0 653.2,508.9 659.0,626.0 664.9,567.0 670.7,603.5 676.5,494.0 682.3,567.0 688.1,517.9 693.9,471.6 699.8,545.9 705.6,526.3 711.4,376.1 717.2,473.0 723.0,465.1 728.8,473.5 734.6,416.8 740.5,487.0 746.3,560.0 752.1,503.3 757.9,512.1 763.7,578.0 769.5,548.6 775.3,618.7 781.2,687.7 787.0,665.3 792.8,562.6 798.6,409.6 804.4,587.9 810.2,604.7 816.0,618.7 821.9,646.8 827.7,725.6 833.5,660.0 839.3,649.6 845.1,644.0 850.9,655.2 856.7,628.6 862.6,673.7 868.4,696.1 874.2,743.8 880.0,679.3 885.8,562.6 891.6,446.1 897.4,607.0 903.3,501.7 909.1,696.1 914.9,697.5 920.7,750.9 926.5,677.9 932.3,742.4 938.1,748.1 944.0,700.3 949.8,689.1 955.6,642.8 961.4,694.7 967.2,760.7 973.0,795.8 978.8,752.3 984.7,715.8 990.5,661.1 996.3,700.3 1002.1,698.9 1007.9,738.2 1013.7,703.2 1019.5,714.4 1025.4,656.8 1031.2,640.0 1037.0,673.7 1042.8,543.0 1048.6,679.3 1054.4,743.8 1060.3,779.9 1066.1,732.8 1071.9,718.8 1077.7,697.7 1083.5,744.0 1089.3,747.4 1095.1,700.5 1101.0,730.0 1106.8,730.5 1112.6,703.3 1118.4,697.7 1124.2,676.1 1130.0,696.3 1135.8,699.7 1141.7,616.3 1147.5,651.4 1153.3,682.3 1159.1,772.1 1164.9,752.4 1170.7,646.3 1176.5,659.8 1182.4,731.4 1188.2,716.0 1194.0,766.5 1199.8,808.6 1205.6,825.4 1211.4,826.8 1217.2,843.7 1223.1,833.8 1228.9,783.9 1234.7,785.6 1240.5,738.4 1246.3,718.8 1252.1,752.4 1257.9,770.7 1263.8,780.5 1269.6,727.2 1275.4,687.9 1281.2,687.3 1287.0,704.7 1292.8,737.0 1298.6,738.4 1304.5,801.6 1310.3,720.2 1316.1,790.3 1321.9,776.3 1327.7,716.5 1333.5,732.8 1339.3,741.2 1345.2,786.1 1351.0,791.7 1356.8,793.3 1362.6,867.1 1368.4,831.2 1374.2,808.7 1380.0,766.6 1385.9,786.3 1391.7,796.1 1397.5,758.2 1403.3,775.1 1409.1,761.0 1414.9,801.7 1420.8,766.6 1426.6,796.1 1432.4,779.3 1438.2,791.9 1444.0,710.5 1449.8,692.3 1455.6,709.1 1461.5,782.1 1467.3,752.6 1473.1,841.0 1478.9,718.9 1484.7,832.6 1490.5,802.6 1496.3,820.0 1502.2,836.8 1508.0,721.7 1513.8,848.0 1519.6,817.2 1525.4,784.9 1531.2,805.4 1537.0,803.1 1542.9,575.8 1548.7,789.1 1554.5,808.7 1560.3,786.3 1566.1,842.4 1571.9,759.6 1577.7,777.9 1583.6,735.8 1589.4,733.0 1595.2,723.1 1601.0,575.8 1606.8,761.0 1612.6,720.3 1618.4,707.7 1624.3,714.7 1630.1,651.0 1635.9,655.8 1641.7,682.4 1647.5,573.5 1653.3,592.6 1659.1,619.6 1665.0,767.0 1670.8,699.6 1676.6,716.5 1682.4,664.5 1688.2,608.4 1694.0,646.3 1699.8,552.3 1705.7,501.7 1711.5,507.4 1717.3,491.9 1723.1,580.3 1728.9,637.9 1734.7,608.4 1740.5,574.7 1746.4,549.5 1752.2,327.5 1758.0,615.4 1763.8,483.5 1769.6,614.0 1775.4,636.5 1781.3,667.3 1787.1,493.3 1792.9,577.5 1798.7,528.4 1804.5,639.3 1810.3,552.3 1816.1,729.1 1822.0,484.9 1827.8,574.7 1833.6,507.4 1839.4,583.1 1845.2,580.3 1851.0,660.3 1856.8,614.0 1862.7,563.5 1868.5,520.0 1874.3,522.8 1880.1,473.7 1885.9,515.8 1891.7,528.4 1897.5,482.1 1903.4,538.2 1909.2,591.6 1915.0,636.5 1920.8,574.7 1926.6,642.1 1932.4,548.1 1938.2,580.3 1944.1,614.0 1949.9,600.0 1955.7,600.2 1961.5,642.3 1967.3,622.6 1973.1,586.1 1978.9,605.8 1984.8,626.0 1990.6,566.5 1996.4,658.5 2002.2,631.0 2008.0,661.9 2013.8,602.4 2019.6,670.3 2025.5,673.1 2031.3,633.8 2037.1,542.6 2042.9,611.4 2048.7,552.4 2054.5,454.2 2060.3,322.0 2066.2,563.7 2072.0,588.9 2077.8,631.0 2083.6,600.2 2089.4,647.9 2095.2,625.4 2101.0,668.9 2106.9,583.3 2112.7,558.1 2118.5,595.9 2124.3,650.7 2130.1,705.4 2135.9,594.5 2141.8,538.4 2147.6,505.3 2153.4,618.4 2159.2,612.8 2165.0,659.1 2170.8,684.4 2176.6,716.6 2182.5,674.5 2188.3,694.2 2194.1,677.3 2199.9,604.4 2205.7,594.5 2211.5,600.2 2217.3,641.7 2223.2,640.0 2229.0,390.2 2234.8,640.0 2240.6,631.6 2246.4,640.9 2252.2,598.7 2258.0,639.4 2263.9,516.0 2269.7,583.3 2275.5,650.7 2281.3,697.0"/>
<polyline fill="none" stroke="#FF9266" stroke-width="1.9" stroke-linejoin="round" points="164.8,509.9 170.6,475.4 176.4,443.1 182.3,479.6 188.1,538.0 193.9,516.1 199.7,573.7 205.5,436.7 211.3,493.7 217.1,601.7 223.0,576.5 228.8,573.7 234.6,450.7 240.4,556.8 246.2,535.8 252.0,535.8 257.8,643.3 263.7,591.9 269.5,540.0 275.3,518.9 281.1,524.5 286.9,515.6 292.7,562.4 298.5,575.1 304.4,548.4 310.2,580.7 316.0,608.7 321.8,509.1 327.6,672.3 333.4,568.0 339.3,555.4 345.1,463.6 350.9,563.8 356.7,576.5 362.5,577.9 368.3,514.7 374.1,451.6 380.0,521.7 385.8,458.6 391.6,474.0 397.4,395.4 403.2,444.5 409.0,490.9 414.8,431.4 420.7,458.6 426.5,469.8 432.3,412.3 438.1,317.4 443.9,384.2 449.7,575.1 455.5,586.6 461.4,582.4 467.2,596.5 473.0,541.7 478.8,515.1 484.6,551.5 490.4,538.9 496.2,484.2 502.1,554.4 507.9,576.8 513.7,562.8 519.5,567.0 525.3,465.9 531.1,616.1 536.9,502.4 542.8,616.1 548.6,501.0 554.4,393.0 560.2,451.9 566.0,343.8 571.8,478.6 577.6,458.9 583.5,425.2 589.3,454.7 595.1,416.8 600.9,515.1 606.7,467.3 612.5,429.5 618.3,460.9 624.2,456.1 630.0,449.1 635.8,461.7 641.6,473.5 647.4,471.6 653.2,449.9 659.0,555.8 664.9,526.3 670.7,547.3 676.5,439.3 682.3,488.4 688.1,465.9 693.9,390.2 699.8,488.4 705.6,473.0 711.4,255.4 717.2,418.2 723.0,430.9 728.8,437.9 734.6,353.7 740.5,383.1 746.3,481.4 752.1,430.3 757.9,436.3 763.7,492.4 769.5,481.2 775.3,543.0 781.2,634.2 787.0,604.7 792.8,506.5 798.6,321.8 804.4,502.3 810.2,531.7 816.0,543.0 821.9,583.7 827.7,669.5 833.5,610.3 839.3,590.1 845.1,608.1 850.9,599.1 856.7,584.5 862.6,618.7 868.4,655.2 874.2,680.7 880.0,590.7 885.8,489.6 891.6,362.8 897.4,558.4 903.3,573.8 909.1,640.0 914.9,628.6 920.7,676.5 926.5,607.0 932.3,691.9 938.1,691.9 944.0,630.0 949.8,610.3 955.6,588.4 961.4,632.8 967.2,713.0 973.0,711.6 978.8,700.3 984.7,661.1 990.5,597.7 996.3,652.4 1002.1,620.1 1007.9,690.5 1013.7,655.2 1019.5,656.6 1025.4,618.7 1031.2,582.3 1037.0,630.0 1042.8,438.5 1048.6,618.7 1054.4,682.1 1060.3,713.7 1066.1,685.1 1071.9,662.6 1077.7,629.5 1083.5,668.2 1089.3,696.3 1095.1,645.8 1101.0,681.7 1106.8,679.5 1112.6,648.6 1118.4,648.0 1124.2,614.9 1130.0,650.0 1135.8,652.0 1141.7,579.0 1147.5,620.5 1153.3,630.3 1159.1,728.6 1164.9,693.5 1170.7,587.4 1176.5,605.9 1182.4,661.2 1188.2,666.8 1194.0,718.8 1199.8,756.6 1205.6,773.5 1211.4,776.3 1217.2,794.5 1223.1,793.1 1228.9,727.2 1234.7,739.8 1240.5,682.3 1246.3,657.6 1252.1,699.1 1257.9,731.4 1263.8,741.2 1269.6,648.6 1275.4,628.4 1281.2,633.2 1287.0,659.8 1292.8,687.9 1298.6,699.1 1304.5,752.4 1310.3,678.9 1316.1,755.2 1321.9,710.3 1327.7,664.0 1333.5,687.9 1339.3,707.5 1345.2,741.2 1351.0,752.4 1356.8,745.6 1362.6,814.4 1368.4,777.9 1374.2,775.1 1380.0,716.1 1385.9,730.2 1391.7,746.4 1397.5,692.3 1403.3,723.1 1409.1,704.3 1414.9,749.8 1420.8,717.5 1426.6,748.4 1432.4,714.7 1438.2,744.2 1444.0,655.8 1449.8,636.7 1455.6,637.5 1461.5,724.5 1467.3,713.3 1473.1,777.9 1478.9,663.4 1484.7,790.5 1490.5,755.4 1496.3,758.2 1502.2,794.7 1508.0,676.8 1513.8,804.5 1519.6,769.4 1525.4,731.6 1531.2,751.2 1537.0,748.4 1542.9,560.3 1548.7,738.6 1554.5,762.4 1560.3,738.6 1566.1,804.5 1571.9,686.6 1577.7,737.2 1583.6,693.7 1589.4,685.2 1595.2,661.4 1601.0,511.8 1606.8,709.1 1612.6,674.0 1618.4,643.7 1624.3,660.0 1630.1,584.2 1635.9,581.4 1641.7,623.5 1647.5,497.2 1653.3,536.5 1659.1,560.7 1665.0,706.6 1670.8,630.9 1676.6,673.0 1682.4,614.0 1688.2,566.3 1694.0,584.5 1699.8,458.2 1705.7,454.0 1711.5,444.2 1717.3,410.3 1723.1,498.9 1728.9,591.6 1734.7,557.9 1740.5,508.8 1746.4,497.5 1752.2,204.0 1758.0,560.7 1763.8,404.7 1769.6,563.5 1775.4,586.0 1781.3,608.4 1787.1,413.1 1792.9,498.9 1798.7,447.0 1804.5,571.9 1810.3,479.3 1816.1,673.0 1822.0,414.5 1827.8,507.4 1833.6,417.3 1839.4,493.3 1845.2,501.7 1851.0,586.0 1856.8,557.9 1862.7,524.2 1868.5,441.2 1874.3,451.2 1880.1,403.9 1885.9,445.4 1891.7,484.9 1897.5,432.8 1903.4,496.1 1909.2,557.9 1915.0,594.4 1920.8,518.6 1926.6,594.4 1932.4,496.1 1938.2,507.4 1944.1,553.7 1949.9,521.4 1955.7,510.3 1961.5,586.1 1967.3,539.8 1973.1,524.9 1978.9,528.6 1984.8,562.3 1990.6,513.1 1996.4,603.0 2002.2,579.1 2008.0,598.7 2013.8,543.5 2019.6,607.2 2025.5,626.8 2031.3,573.5 2037.1,503.3 2042.9,558.1 2048.7,483.7 2054.5,566.5 2060.3,479.5 2066.2,501.9 2072.0,516.0 2077.8,579.1 2083.6,541.2 2089.4,605.8 2095.2,584.7 2101.0,635.2 2106.9,530.0 2112.7,514.5 2118.5,525.8 2124.3,594.5 2130.1,633.8 2135.9,527.2 2141.8,468.2 2147.6,435.1 2153.4,552.4 2159.2,569.3 2165.0,588.9 2170.8,639.4 2176.6,664.7 2182.5,624.9 2188.3,641.7 2194.1,631.0 2199.9,551.0 2205.7,545.4 2211.5,547.4 2217.3,570.7 2223.2,586.1 2229.0,579.1 2234.8,587.5 2240.6,574.3 2246.4,591.7 2252.2,543.5 2258.0,588.9 2263.9,437.4 2269.7,516.0 2275.5,594.5 2281.3,650.7"/>
<polyline fill="none" stroke="#1F7AA6" stroke-width="2.1" stroke-linejoin="round" points="164.8,862.6 170.6,829.4 176.4,787.3 182.3,795.8 188.1,854.7 193.9,863.7 199.7,862.6 205.5,764.9 211.3,816.8 217.1,905.2 223.0,895.4 228.8,868.7 234.6,818.2 240.4,853.3 246.2,846.3 252.0,877.2 257.8,885.6 263.7,894.0 269.5,819.6 275.3,825.2 281.1,836.5 286.9,822.4 292.7,899.6 298.5,888.4 304.4,867.3 310.2,887.0 316.0,896.8 321.8,903.8 327.6,903.8 333.4,835.1 339.3,784.5 345.1,762.1 350.9,850.5 356.7,496.8 362.5,843.5 368.3,655.4 374.1,773.3 380.0,842.1 385.8,784.5 391.6,762.1 397.4,748.1 403.2,791.6 409.0,790.2 414.8,753.7 420.7,797.2 426.5,781.7 432.3,783.1 438.1,790.2 443.9,499.7 449.7,944.5 455.5,950.1 461.4,924.9 467.2,899.6 473.0,871.5 478.8,901.0 484.6,898.2 490.4,837.9 496.2,843.5 502.1,905.2 507.9,910.0 513.7,899.6 519.5,899.6 525.3,854.7 531.1,888.4 536.9,804.2 542.8,910.8 548.6,840.7 554.4,778.9 560.2,844.9 566.0,837.9 571.8,878.6 577.6,849.1 583.5,829.4 589.3,819.6 595.1,857.5 600.9,895.4 606.7,877.2 612.5,875.8 618.3,894.0 624.2,903.8 630.0,885.6 635.8,864.5 641.6,875.8 647.4,888.4 653.2,880.0 659.0,905.2 664.9,922.1 670.7,927.7 676.5,885.6 682.3,829.4 688.1,878.6 693.9,807.0 699.8,851.9 705.6,860.3 711.4,753.7 717.2,839.3 723.0,840.7 728.8,821.0 734.6,814.0 740.5,823.8 746.3,868.7 752.1,901.0 757.9,898.2 763.7,913.7 769.5,870.2 775.3,898.2 781.2,931.9 787.0,916.5 792.8,836.5 798.6,727.0 804.4,864.5 810.2,929.1 816.0,901.0 821.9,903.8 827.7,934.7 833.5,874.4 839.3,873.0 845.1,908.0 850.9,902.4 856.7,891.2 862.6,837.9 868.4,894.0 874.2,924.9 880.0,858.9 885.8,791.6 891.6,748.1 897.4,853.3 903.3,936.1 909.1,944.5 914.9,923.5 920.7,960.0 926.5,981.0 932.3,967.0 938.1,978.2 944.0,934.7 949.8,902.4 955.6,901.0 961.4,878.6 967.2,986.6 973.0,988.0 978.8,957.2 984.7,926.3 990.5,920.7 996.3,979.6 1002.1,962.8 1007.9,968.4 1013.7,926.3 1019.5,937.5 1025.4,892.6 1031.2,861.7 1037.0,891.2 1042.8,808.4 1048.6,892.6 1054.4,990.0 1060.3,1004.7 1066.1,948.6 1071.9,900.9 1077.7,903.7 1083.5,966.8 1089.3,971.0 1095.1,927.5 1101.0,926.1 1106.8,920.5 1112.6,921.9 1118.4,896.6 1124.2,886.8 1130.0,916.3 1135.8,919.1 1141.7,825.1 1147.5,878.4 1153.3,910.7 1159.1,919.1 1164.9,914.9 1170.7,895.2 1176.5,885.4 1182.4,912.1 1188.2,892.4 1194.0,985.1 1199.8,958.4 1205.6,1017.3 1211.4,1001.9 1217.2,993.5 1223.1,993.5 1228.9,1006.1 1234.7,990.7 1240.5,931.7 1246.3,959.8 1252.1,973.8 1257.9,944.4 1263.8,985.1 1269.6,948.6 1275.4,931.7 1281.2,945.8 1287.0,954.2 1292.8,958.4 1298.6,923.3 1304.5,962.6 1310.3,900.9 1316.1,989.3 1321.9,954.2 1327.7,917.7 1333.5,919.1 1339.3,959.8 1345.2,989.3 1351.0,962.6 1356.8,971.4 1362.6,1041.5 1368.4,1016.3 1374.2,999.4 1380.0,965.8 1385.9,1005.1 1391.7,1005.1 1397.5,911.0 1403.3,992.4 1409.1,923.7 1414.9,1003.7 1420.8,923.7 1426.6,993.8 1432.4,923.7 1438.2,974.2 1444.0,943.3 1449.8,912.4 1455.6,878.8 1461.5,951.7 1467.3,948.9 1473.1,1005.1 1478.9,926.5 1484.7,993.8 1490.5,960.2 1496.3,965.8 1502.2,993.8 1508.0,909.6 1513.8,1005.1 1519.6,1019.1 1525.4,977.0 1531.2,960.2 1537.0,979.8 1542.9,822.6 1548.7,1005.1 1554.5,1033.1 1560.3,1019.1 1566.1,1013.5 1571.9,996.6 1577.7,1000.9 1583.6,954.5 1589.4,920.9 1595.2,961.6 1601.0,864.7 1606.8,958.7 1612.6,926.5 1618.4,993.8 1624.3,974.2 1630.1,887.2 1635.9,923.7 1641.7,965.8 1647.5,926.5 1653.3,920.9 1659.1,943.1 1665.0,1034.9 1670.8,982.4 1676.6,985.2 1682.4,979.6 1688.2,934.7 1694.0,892.6 1699.8,713.0 1705.7,808.4 1711.5,833.7 1717.3,800.0 1723.1,858.9 1728.9,908.0 1734.7,836.5 1740.5,767.7 1746.4,814.0 1752.2,819.6 1758.0,833.7 1763.8,755.1 1769.6,819.6 1775.4,894.0 1781.3,892.6 1787.1,760.7 1792.9,868.7 1798.7,861.7 1804.5,844.9 1810.3,878.6 1816.1,954.4 1822.0,788.8 1827.8,903.8 1833.6,800.0 1839.4,878.6 1845.2,933.3 1851.0,853.3 1856.8,906.6 1862.7,878.6 1868.5,800.0 1874.3,839.3 1880.1,780.3 1885.9,814.0 1891.7,842.1 1897.5,839.3 1903.4,830.9 1909.2,864.5 1915.0,888.4 1920.8,842.1 1926.6,873.0 1932.4,777.5 1938.2,778.9 1944.1,800.0 1949.9,819.6 1955.7,799.6 1961.5,889.4 1967.3,833.3 1973.1,878.2 1978.9,817.9 1984.8,867.0 1990.6,897.9 1996.4,895.1 2002.2,976.5 2008.0,959.6 2013.8,869.8 2019.6,872.6 2025.5,896.5 2031.3,889.4 2037.1,802.4 2042.9,869.8 2048.7,802.4 2054.5,893.7 2060.3,788.4 2066.2,813.7 2072.0,827.7 2077.8,855.8 2083.6,830.5 2089.4,876.8 2095.2,882.4 2101.0,889.4 2106.9,802.4 2112.7,751.9 2118.5,794.0 2124.3,858.6 2130.1,869.8 2135.9,879.6 2141.8,788.4 2147.6,794.0 2153.4,827.7 2159.2,883.8 2165.0,900.7 2170.8,911.9 2176.6,945.6 2182.5,889.4 2188.3,872.6 2194.1,844.5 2199.9,767.4 2205.7,802.4 2211.5,781.4 2217.3,861.4 2223.2,858.6 2229.0,872.6 2234.8,918.9 2240.6,819.3 2246.4,871.2 2252.2,874.0 2258.0,816.5 2263.9,743.5 2269.7,794.0 2275.5,844.5 2281.3,853.0"/>
<polyline fill="none" stroke="#0B8CCC" stroke-width="2.1" stroke-linejoin="round" points="164.8,851.9 170.6,821.0 176.4,777.5 182.3,788.7 188.1,843.5 193.9,856.1 199.7,851.9 205.5,762.1 211.3,809.8 217.1,891.2 223.0,877.2 228.8,857.5 234.6,804.2 240.4,846.3 246.2,836.5 252.0,868.7 257.8,877.2 263.7,880.0 269.5,814.0 275.3,816.8 281.1,826.6 286.9,815.4 292.7,885.6 298.5,877.2 304.4,857.5 310.2,877.2 316.0,887.0 321.8,894.0 327.6,892.6 333.4,829.4 339.3,781.7 345.1,759.3 350.9,846.3 356.7,496.8 362.5,840.7 368.3,652.6 374.1,770.5 380.0,837.9 385.8,781.7 391.6,759.3 397.4,742.4 403.2,783.1 409.0,781.7 414.8,748.1 420.7,784.5 426.5,762.1 432.3,760.7 438.1,767.7 443.9,499.7 449.7,936.1 455.5,936.1 461.4,910.8 467.2,885.6 473.0,858.9 478.8,887.0 484.6,887.0 490.4,832.3 496.2,837.9 502.1,901.0 507.9,901.0 513.7,891.2 519.5,891.2 525.3,849.1 531.1,882.8 536.9,801.4 542.8,905.2 548.6,836.5 554.4,776.1 560.2,829.4 566.0,829.4 571.8,868.7 577.6,840.7 583.5,819.6 589.3,811.2 595.1,849.1 600.9,874.4 606.7,861.7 612.5,858.9 618.3,885.6 624.2,895.4 630.0,871.5 635.8,851.9 641.6,861.7 647.4,871.5 653.2,865.9 659.0,896.8 664.9,913.6 670.7,919.3 676.5,877.2 682.3,826.6 688.1,858.9 693.9,798.6 699.8,843.5 705.6,843.5 711.4,750.9 717.2,825.2 723.0,826.6 728.8,807.0 734.6,795.8 740.5,812.6 746.3,861.7 752.1,894.0 757.9,887.0 763.7,905.2 769.5,863.1 775.3,889.8 781.2,923.5 787.0,909.4 792.8,833.7 798.6,721.4 804.4,861.7 810.2,917.9 816.0,894.0 821.9,895.4 827.7,926.3 833.5,868.7 839.3,870.2 845.1,902.4 850.9,896.8 856.7,887.0 862.6,836.5 868.4,889.8 874.2,920.7 880.0,856.1 885.8,788.8 891.6,746.7 897.4,850.5 903.3,929.1 909.1,937.5 914.9,916.5 920.7,950.1 926.5,969.8 932.3,957.2 938.1,968.4 944.0,926.3 949.8,894.0 955.6,891.2 961.4,873.0 967.2,976.8 973.0,981.0 978.8,948.7 984.7,917.9 990.5,912.3 996.3,971.2 1002.1,953.0 1007.9,960.0 1013.7,916.5 1019.5,926.3 1025.4,884.2 1031.2,856.1 1037.0,884.2 1042.8,802.8 1048.6,887.0 1054.4,982.4 1060.3,999.1 1066.1,945.8 1071.9,896.6 1077.7,895.2 1083.5,959.8 1089.3,964.0 1095.1,919.1 1101.0,917.7 1106.8,914.9 1112.6,912.1 1118.4,889.6 1124.2,878.4 1130.0,903.7 1135.8,905.1 1141.7,822.3 1147.5,875.6 1153.3,906.5 1159.1,914.9 1164.9,910.7 1170.7,889.6 1176.5,877.0 1182.4,907.9 1188.2,889.6 1194.0,979.4 1199.8,955.6 1205.6,1008.9 1211.4,993.5 1217.2,989.3 1223.1,990.7 1228.9,999.1 1234.7,985.1 1240.5,928.9 1246.3,954.2 1252.1,969.6 1257.9,941.6 1263.8,980.9 1269.6,945.8 1275.4,920.5 1281.2,934.5 1287.0,945.8 1292.8,948.6 1298.6,920.5 1304.5,958.4 1310.3,898.1 1316.1,982.3 1321.9,951.4 1327.7,914.9 1333.5,916.3 1339.3,955.6 1345.2,983.7 1351.0,957.0 1356.8,963.0 1362.6,1027.5 1368.4,1010.7 1374.2,995.2 1380.0,963.0 1385.9,993.8 1391.7,993.8 1397.5,909.6 1403.3,988.2 1409.1,922.3 1414.9,999.4 1420.8,922.3 1426.6,989.6 1432.4,922.3 1438.2,971.4 1444.0,940.5 1449.8,909.6 1455.6,877.4 1461.5,946.1 1467.3,943.3 1473.1,999.4 1478.9,923.7 1484.7,989.6 1490.5,955.9 1496.3,960.2 1502.2,989.6 1508.0,906.8 1513.8,1000.9 1519.6,1013.5 1525.4,972.8 1531.2,954.5 1537.0,975.6 1542.9,821.2 1548.7,999.4 1554.5,1024.7 1560.3,1014.9 1566.1,1010.7 1571.9,989.6 1577.7,991.0 1583.6,951.7 1589.4,918.1 1595.2,957.3 1601.0,861.9 1606.8,954.5 1612.6,923.7 1618.4,988.2 1624.3,970.0 1630.1,884.4 1635.9,920.9 1641.7,961.6 1647.5,922.3 1653.3,918.1 1659.1,937.5 1665.0,1027.3 1670.8,976.8 1676.6,979.6 1682.4,974.0 1688.2,929.1 1694.0,888.4 1699.8,711.6 1705.7,805.6 1711.5,822.4 1717.3,797.2 1723.1,854.7 1728.9,903.8 1734.7,833.7 1740.5,766.3 1746.4,808.4 1752.2,811.2 1758.0,829.5 1763.8,753.7 1769.6,816.8 1775.4,881.4 1781.3,878.6 1787.1,757.9 1792.9,853.3 1798.7,847.7 1804.5,840.7 1810.3,873.0 1816.1,948.7 1822.0,786.0 1827.8,898.2 1833.6,797.2 1839.4,874.4 1845.2,927.7 1851.0,849.1 1856.8,898.2 1862.7,873.0 1868.5,797.2 1874.3,835.1 1880.1,777.5 1885.9,797.2 1891.7,828.1 1897.5,823.8 1903.4,815.4 1909.2,858.9 1915.0,878.6 1920.8,836.5 1926.6,867.3 1932.4,770.5 1938.2,769.1 1944.1,795.8 1949.9,814.0 1955.7,796.8 1961.5,883.8 1967.3,830.5 1973.1,872.6 1978.9,816.5 1984.8,862.8 1990.6,883.8 1996.4,883.8 2002.2,965.2 2008.0,951.2 2013.8,865.6 2019.6,861.4 2025.5,881.0 2031.3,879.6 2037.1,799.6 2042.9,864.2 2048.7,799.6 2054.5,888.0 2060.3,785.6 2066.2,808.1 2072.0,819.3 2077.8,844.5 2083.6,823.5 2089.4,865.6 2095.2,869.8 2101.0,875.4 2106.9,799.6 2112.7,750.5 2118.5,791.2 2124.3,853.0 2130.1,864.2 2135.9,869.8 2141.8,778.6 2147.6,780.0 2153.4,816.5 2159.2,867.0 2165.0,889.4 2170.8,900.7 2176.6,937.2 2182.5,883.8 2188.3,868.4 2194.1,841.7 2199.9,766.0 2205.7,794.0 2211.5,778.6 2217.3,850.2 2223.2,848.7 2229.0,867.0 2234.8,911.9 2240.6,816.5 2246.4,858.6 2252.2,858.6 2258.0,813.7 2263.9,742.1 2269.7,791.2 2275.5,838.9 2281.3,841.7"/>
<polyline fill="none" stroke="#3CC9F3" stroke-width="2.1" stroke-linejoin="round" points="164.8,771.9 170.6,728.4 176.4,687.7 182.3,708.8 188.1,773.3 193.9,784.5 199.7,780.3 205.5,683.5 211.3,739.6 217.1,818.2 223.0,801.4 228.8,776.1 234.6,713.0 240.4,750.9 246.2,743.8 252.0,793.0 257.8,801.4 263.7,784.5 269.5,727.0 275.3,739.6 281.1,750.9 286.9,750.9 292.7,798.6 298.5,801.4 304.4,757.9 310.2,793.0 316.0,814.0 321.8,826.6 327.6,821.0 333.4,756.5 339.3,700.3 345.1,691.9 350.9,781.7 356.7,496.8 362.5,784.5 368.3,609.1 374.1,658.2 380.0,756.5 385.8,691.9 391.6,689.1 397.4,655.4 403.2,711.6 409.0,708.8 414.8,666.7 420.7,713.0 426.5,697.5 432.3,687.7 438.1,672.3 443.9,499.7 449.7,843.5 455.5,856.1 461.4,843.5 467.2,807.0 473.0,770.5 478.8,818.2 484.6,812.6 490.4,753.7 496.2,750.9 502.1,822.4 507.9,826.6 513.7,836.5 519.5,798.6 525.3,756.5 531.1,798.6 536.9,731.2 542.8,807.0 548.6,773.3 554.4,703.1 560.2,756.5 566.0,713.0 571.8,784.5 577.6,762.1 583.5,735.4 589.3,739.6 595.1,746.6 600.9,785.9 606.7,767.7 612.5,750.9 618.3,809.8 624.2,819.6 630.0,776.1 635.8,748.1 641.6,781.7 647.4,787.3 653.2,771.9 659.0,814.0 664.9,836.5 670.7,837.9 676.5,770.5 682.3,739.6 688.1,742.4 693.9,686.3 699.8,769.1 705.6,725.6 711.4,680.7 717.2,729.8 723.0,732.6 728.8,735.4 734.6,693.3 740.5,693.3 746.3,781.7 752.1,823.8 757.9,811.2 763.7,819.6 769.5,798.6 775.3,819.6 781.2,853.3 787.0,808.4 792.8,752.3 798.6,611.9 804.4,752.3 810.2,853.3 816.0,830.9 821.9,823.8 827.7,865.9 833.5,801.4 839.3,819.6 845.1,836.5 850.9,850.5 856.7,819.6 862.6,770.5 868.4,836.5 874.2,864.5 880.0,797.2 885.8,724.2 891.6,659.6 897.4,780.3 903.3,850.5 909.1,878.6 914.9,846.3 920.7,875.8 926.5,896.8 932.3,901.0 938.1,919.3 944.0,887.0 949.8,853.3 955.6,825.2 961.4,808.4 967.2,934.7 973.0,934.7 978.8,889.8 984.7,853.3 990.5,844.9 996.3,903.8 1002.1,898.2 1007.9,899.6 1013.7,843.5 1019.5,854.7 1025.4,819.6 1031.2,777.5 1037.0,819.6 1042.8,710.2 1048.6,819.6 1054.4,892.6 1060.3,934.5 1066.1,867.2 1071.9,833.5 1077.7,813.8 1083.5,881.2 1089.3,892.4 1095.1,856.0 1101.0,858.8 1106.8,863.0 1112.6,830.7 1118.4,822.3 1124.2,806.8 1130.0,839.1 1135.8,840.5 1141.7,759.1 1147.5,802.6 1153.3,833.5 1159.1,864.4 1164.9,864.4 1170.7,811.0 1176.5,797.0 1182.4,841.9 1188.2,822.3 1194.0,884.0 1199.8,906.5 1205.6,943.0 1211.4,951.4 1217.2,938.7 1223.1,943.0 1228.9,941.6 1234.7,934.5 1240.5,875.6 1246.3,892.4 1252.1,898.1 1257.9,881.2 1263.8,916.3 1269.6,861.6 1275.4,837.7 1281.2,858.8 1287.0,884.0 1292.8,878.4 1298.6,867.2 1304.5,889.6 1310.3,834.9 1316.1,924.7 1321.9,900.9 1327.7,854.5 1333.5,861.6 1339.3,906.5 1345.2,919.1 1351.0,896.6 1356.8,898.4 1362.6,988.2 1368.4,960.2 1374.2,943.3 1380.0,906.8 1385.9,932.1 1391.7,929.3 1397.5,842.3 1403.3,915.2 1409.1,856.3 1414.9,932.1 1420.8,864.7 1426.6,915.2 1432.4,864.7 1438.2,909.6 1444.0,887.2 1449.8,853.5 1455.6,803.0 1461.5,870.3 1467.3,904.0 1473.1,943.3 1478.9,859.1 1484.7,932.1 1490.5,909.6 1496.3,902.6 1502.2,946.1 1508.0,892.8 1513.8,946.1 1519.6,954.5 1525.4,926.5 1531.2,912.4 1537.0,923.7 1542.9,766.5 1548.7,926.5 1554.5,954.5 1560.3,963.0 1566.1,977.0 1571.9,940.5 1577.7,932.1 1583.6,898.4 1589.4,864.7 1595.2,887.2 1601.0,786.1 1606.8,898.4 1612.6,887.2 1618.4,915.2 1624.3,904.0 1630.1,811.4 1635.9,811.4 1641.7,895.6 1647.5,850.7 1653.3,850.7 1659.1,881.4 1665.0,964.2 1670.8,909.4 1676.6,916.5 1682.4,901.0 1688.2,853.3 1694.0,819.6 1699.8,656.8 1705.7,725.6 1711.5,732.6 1717.3,721.4 1723.1,791.6 1728.9,836.5 1734.7,766.3 1740.5,718.6 1746.4,760.7 1752.2,738.2 1758.0,777.5 1763.8,676.5 1769.6,786.0 1775.4,833.7 1781.3,797.2 1787.1,648.4 1792.9,774.7 1798.7,783.1 1804.5,793.0 1810.3,808.4 1816.1,870.2 1822.0,743.8 1827.8,808.4 1833.6,732.6 1839.4,808.4 1845.2,847.7 1851.0,797.2 1856.8,830.9 1862.7,794.4 1868.5,710.2 1874.3,746.7 1880.1,707.4 1885.9,727.0 1891.7,753.7 1897.5,741.0 1903.4,727.0 1909.2,771.9 1915.0,814.0 1920.8,763.5 1926.6,805.6 1932.4,701.7 1938.2,697.5 1944.1,738.2 1949.9,742.4 1955.7,704.2 1961.5,816.5 1967.3,771.6 1973.1,794.0 1978.9,754.7 1984.8,788.4 1990.6,799.6 1996.4,808.1 2002.2,892.3 2008.0,844.5 2013.8,785.6 2019.6,788.4 2025.5,820.7 2031.3,799.6 2037.1,716.8 2042.9,760.3 2048.7,712.6 2054.5,799.6 2060.3,704.2 2066.2,749.1 2072.0,751.9 2077.8,773.0 2083.6,757.5 2089.4,796.8 2095.2,796.8 2101.0,808.1 2106.9,726.7 2112.7,693.0 2118.5,715.4 2124.3,777.2 2130.1,794.0 2135.9,771.6 2141.8,698.6 2147.6,687.4 2153.4,740.7 2159.2,782.8 2165.0,810.9 2170.8,836.1 2176.6,869.8 2182.5,830.5 2188.3,813.7 2194.1,799.6 2199.9,691.6 2205.7,732.3 2211.5,716.8 2217.3,777.2 2223.2,777.2 2229.0,799.6 2234.8,830.5 2240.6,737.9 2246.4,777.2 2252.2,791.2 2258.0,754.7 2263.9,656.5 2269.7,726.7 2275.5,785.6 2281.3,799.6"/>
</g></g>
<g stroke="#565656" stroke-width="2" fill="none">
<rect x="159.0" y="84.5" width="2122.3" height="1018.5"/>
<line x1="333.4" y1="1103.0" x2="333.4" y2="1083.0"/>
<line x1="333.4" y1="84.5" x2="333.4" y2="104.5"/>
<line x1="507.9" y1="1103.0" x2="507.9" y2="1083.0"/>
<line x1="507.9" y1="84.5" x2="507.9" y2="104.5"/>
<line x1="682.3" y1="1103.0" x2="682.3" y2="1083.0"/>
<line x1="682.3" y1="84.5" x2="682.3" y2="104.5"/>
<line x1="856.7" y1="1103.0" x2="856.7" y2="1083.0"/>
<line x1="856.7" y1="84.5" x2="856.7" y2="104.5"/>
<line x1="1031.2" y1="1103.0" x2="1031.2" y2="1083.0"/>
<line x1="1031.2" y1="84.5" x2="1031.2" y2="104.5"/>
<line x1="1205.6" y1="1103.0" x2="1205.6" y2="1083.0"/>
<line x1="1205.6" y1="84.5" x2="1205.6" y2="104.5"/>
<line x1="1380.0" y1="1103.0" x2="1380.0" y2="1083.0"/>
<line x1="1380.0" y1="84.5" x2="1380.0" y2="104.5"/>
<line x1="1554.5" y1="1103.0" x2="1554.5" y2="1083.0"/>
<line x1="1554.5" y1="84.5" x2="1554.5" y2="104.5"/>
<line x1="1728.9" y1="1103.0" x2="1728.9" y2="1083.0"/>
<line x1="1728.9" y1="84.5" x2="1728.9" y2="104.5"/>
<line x1="1903.4" y1="1103.0" x2="1903.4" y2="1083.0"/>
<line x1="1903.4" y1="84.5" x2="1903.4" y2="104.5"/>
<line x1="2077.8" y1="1103.0" x2="2077.8" y2="1083.0"/>
<line x1="2077.8" y1="84.5" x2="2077.8" y2="104.5"/>
<line x1="2252.2" y1="1103.0" x2="2252.2" y2="1083.0"/>
<line x1="2252.2" y1="84.5" x2="2252.2" y2="104.5"/>
<line x1="159.0" y1="763.5" x2="179.0" y2="763.5"/>
<line x1="2281.3" y1="763.5" x2="2261.3" y2="763.5"/>
<line x1="159.0" y1="424.0" x2="179.0" y2="424.0"/>
<line x1="2281.3" y1="424.0" x2="2261.3" y2="424.0"/>
</g>
<text class="tk" x="159.0" y="1169.2" text-anchor="middle">0</text>
<text class="tk" x="333.4" y="1169.2" text-anchor="middle">30</text>
<text class="tk" x="507.9" y="1169.2" text-anchor="middle">60</text>
<text class="tk" x="682.3" y="1169.2" text-anchor="middle">90</text>
<text class="tk" x="856.7" y="1169.2" text-anchor="middle">120</text>
<text class="tk" x="1031.2" y="1169.2" text-anchor="middle">150</text>
<text class="tk" x="1205.6" y="1169.2" text-anchor="middle">180</text>
<text class="tk" x="1380.0" y="1169.2" text-anchor="middle">210</text>
<text class="tk" x="1554.5" y="1169.2" text-anchor="middle">240</text>
<text class="tk" x="1728.9" y="1169.2" text-anchor="middle">270</text>
<text class="tk" x="1903.4" y="1169.2" text-anchor="middle">300</text>
<text class="tk" x="2077.8" y="1169.2" text-anchor="middle">330</text>
<text class="tk" x="2252.2" y="1169.2" text-anchor="middle">360</text>
<text class="tk" x="144" y="103.5" text-anchor="end">2</text>
<text class="tk" x="144" y="443.0" text-anchor="end">1.5</text>
<text class="tk" x="144" y="782.5" text-anchor="end">1</text>
<text class="tk" x="144" y="1122.0" text-anchor="end">0.5</text>
<text class="lb" x="1220.5" y="1235.3" text-anchor="middle">DOY</text>
<text class="lb" transform="translate(58,593.5) rotate(-90)" text-anchor="middle">RMS [TECU]</text>
<text class="ti" x="1220.3" y="61.3" text-anchor="middle">2018</text>
<line x1="177.2" y1="150.2" x2="238.2" y2="150.2" stroke="#76356F" stroke-width="1.5"/>
<text class="lg" x="250.7" y="167.6">CASG30</text>
<line x1="471.2" y1="148.6" x2="532.6" y2="148.6" stroke="#B86CB8" stroke-width="2.5"/>
<text class="lg" x="557.4" y="165.8">CASG60</text>
<line x1="783.4" y1="147.4" x2="844.0" y2="147.4" stroke="#E899E2" stroke-width="1.5"/>
<text class="lg" x="862.8" y="165.0">CASG120</text>
<line x1="1103.4" y1="145.7" x2="1165.2" y2="145.7" stroke="#10A43B" stroke-width="2.1"/>
<text class="lg" x="1174.7" y="166.3">CODG60</text>
<line x1="1393.4" y1="144.6" x2="1454.4" y2="144.6" stroke="#22FA7A" stroke-width="2.1"/>
<text class="lg" x="1463.7" y="168.0">CODG120</text>
<line x1="173.0" y1="211.4" x2="234.3" y2="211.4" stroke="#FF8C69" stroke-width="2.6"/>
<text class="lg" x="243.3" y="227.2">EMRG60</text>
<line x1="469.2" y1="208.6" x2="530.6" y2="208.6" stroke="#FFA98A" stroke-width="2.5"/>
<text class="lg" x="539.5" y="227.2">EMRG120</text>
<line x1="784.0" y1="208.6" x2="844.1" y2="208.6" stroke="#2D84A9" stroke-width="2.6"/>
<text class="lg" x="874.0" y="220.8">UQRG15</text>
<line x1="1106.2" y1="203.2" x2="1167.2" y2="203.2" stroke="#0C9BD8" stroke-width="2.1"/>
<text class="lg" x="1172.9" y="222.0">UQRG60</text>
<line x1="1393.4" y1="204.4" x2="1454.4" y2="204.4" stroke="#5AD2F2" stroke-width="2.6"/>
<text class="lg" x="1463.2" y="223.4">UQRG120</text>
</svg></body></html>
